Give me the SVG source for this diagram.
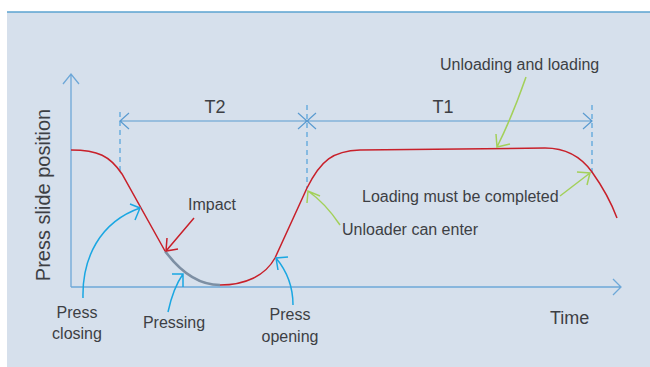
<svg xmlns="http://www.w3.org/2000/svg" width="650" height="367" viewBox="0 0 650 367">
<style>
.txt{font-family:"Liberation Sans",Arial,sans-serif;fill:#3d3f44;}
.axis{stroke:#6ea8d8;stroke-width:1.3;fill:none;}
.dim{stroke:#5b9bd0;stroke-width:1.2;fill:none;}
.dash{stroke:#5ba7dc;stroke-width:1.3;stroke-dasharray:5 4;fill:none;}
.red{stroke:#c8202a;stroke-width:1.5;fill:none;}
.blue{stroke:#1aa7e2;stroke-width:1.5;fill:none;}
.green{stroke:#a3d05a;stroke-width:1.5;fill:none;}
</style>
<rect x="7" y="12" width="643" height="355" fill="#d6e0ec"/>
<line x1="7" y1="12" x2="650" y2="12" stroke="#5ba3d0" stroke-width="1.5"/>

<g id="axes">
<path class="axis" d="M71,287 V74 M63,84 L71,74 L79,84"/>
<path class="axis" d="M71,287 H621 M613,279 L621,287 L613,295"/>
<text class="txt" font-size="20" text-anchor="middle" transform="translate(50,195) rotate(-90)">Press slide position</text>
<text class="txt" font-size="18" x="550" y="324">Time</text>
</g>

<g id="dimensions">
<path class="dash" d="M120,112 V172"/>
<path class="dash" d="M307,105 V188"/>
<path class="dash" d="M592,105 V173"/>
<path class="dim" d="M120,121 H307 M129,113 L120,121 L129,129 M298,113 L307,121 L298,129"/>
<path class="dim" d="M307,121 H592 M316,113 L307,121 L316,129 M583,113 L592,121 L583,129"/>
<text class="txt" font-size="18" x="215" y="113" text-anchor="middle">T2</text>
<text class="txt" font-size="18" x="443" y="113" text-anchor="middle">T1</text>
</g>

<g id="curve">
<path class="red" d="M71,150 C98,150 110,156 122,174 L165,251"/>
<path d="M165,251 C182,274 200,285 220,285" stroke="#7d8fa3" stroke-width="2.6" fill="none"/>
<path class="red" d="M220,285 C245,285 265,276 275,258 L307,188 C321,160 333,151 360,150 L545,148 C568,148 582,158 592,172 C602,186 611,202 617,218"/>
</g>

<g id="impact">
<path class="red" d="M194,218 L166,251 M167,238 L166,251 L178,249"/>
<text class="txt" font-size="16" x="188" y="210">Impact</text>
</g>

<g id="press-closing">
<path class="blue" d="M83,298 C82,258 100,222 140,208 M130,204 L140,208 L135,220"/>
<text class="txt" font-size="16" x="77" y="318" text-anchor="middle">Press</text>
<text class="txt" font-size="16" x="77" y="339" text-anchor="middle">closing</text>
</g>

<g id="pressing">
<path class="blue" d="M168,312 C171,298 176,284 183,274 M172,274 L183,274 L183,287"/>
<text class="txt" font-size="16" x="174" y="328" text-anchor="middle">Pressing</text>
</g>

<g id="press-opening">
<path class="blue" d="M293,305 C293,287 286,270 276,258 M288,257 L276,258 L278,270"/>
<text class="txt" font-size="16" x="290" y="320" text-anchor="middle">Press</text>
<text class="txt" font-size="16" x="290" y="342" text-anchor="middle">opening</text>
</g>

<g id="unloader">
<path class="green" d="M340,225 C330,210 318,198 308,191 M320,196 L308,191 L307,203"/>
<text class="txt" font-size="16" x="342" y="235">Unloader can enter</text>
</g>

<g id="loading-complete">
<path class="green" d="M560,196 L590,173 M577,172 L590,173 L587,185"/>
<text class="txt" font-size="16" x="362" y="202">Loading must be completed</text>
</g>

<g id="unloading-loading">
<path class="green" d="M526,77 C518,100 508,125 497,147 M496,134 L497,147 L510,144"/>
<text class="txt" font-size="16" x="440" y="70">Unloading and loading</text>
</g>
</svg>
